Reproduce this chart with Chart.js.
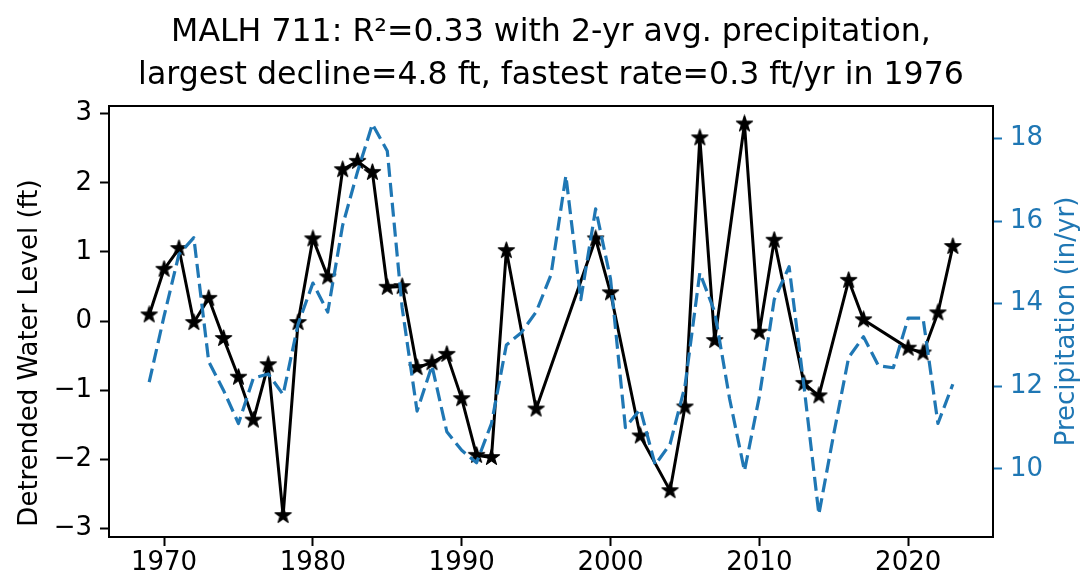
<!DOCTYPE html>
<html><head><meta charset="utf-8">
<script src="https://cdn.jsdelivr.net/npm/chart.js@4/dist/chart.umd.min.js"></script>
<style>html,body{margin:0;padding:0;background:#fff;} #wrap{width:1083px;height:586px;}</style>
</head><body><div id="wrap"><canvas id="c" width="1083" height="586"></canvas></div>
<script>
// ---- data ----
const waterYears = [1969,1970,1971,1972,1973,1974,1975,1976,1977,1978,1979,1980,1981,1982,1983,1984,1985,1986,1987,1988,1989,1990,1991,1992,1993,1995,1999,2000,2002,2004,2005,2006,2007,2009,2010,2011,2013,2014,2016,2017,2020,2021,2022,2023];
const waterLevels = [0.09,0.75,1.05,-0.02,0.33,-0.25,-0.81,-1.43,-0.63,-2.81,-0.02,1.19,0.64,2.19,2.31,2.15,0.49,0.50,-0.67,-0.60,-0.48,-1.12,-1.94,-1.97,1.02,-1.27,1.19,0.41,-1.66,-2.45,-1.24,2.65,-0.28,2.85,-0.16,1.17,-0.90,-1.08,0.59,0.02,-0.39,-0.46,0.12,1.08];
const precipYears = [1969,1970,1971,1972,1973,1974,1975,1976,1977,1978,1979,1980,1981,1982,1983,1984,1985,1986,1987,1988,1989,1990,1991,1992,1993,1994,1995,1996,1997,1998,1999,2000,2001,2002,2003,2004,2005,2006,2007,2008,2009,2010,2011,2012,2013,2014,2015,2016,2017,2018,2019,2020,2021,2022,2023];
const precipValues = [12.1,13.7,15.2,15.6,12.6,11.9,11.1,12.2,12.3,11.8,13.5,14.5,13.8,15.9,17.2,18.35,17.7,13.9,11.4,12.5,10.9,10.45,10.15,11.1,13.0,13.3,13.8,14.7,17.1,14.1,16.3,14.6,11.0,11.45,10.1,10.6,12.0,14.75,13.8,11.7,9.95,11.75,14.1,14.9,12.0,8.9,10.85,12.7,13.2,12.5,12.45,13.65,13.65,11.1,12.05];
const xTickValues = [1970,1980,1990,2000,2010,2020];
const leftTickValues = [-3,-2,-1,0,1,2,3];
const rightTickValues = [10,12,14,16,18];
const titleLines = ['MALH 711: R\u00B2=0.33 with 2-yr avg. precipitation,', 'largest decline=4.8 ft, fastest rate=0.3 ft/yr in 1976'];
const leftLabel = 'Detrended Water Level (ft)';
const rightLabel = 'Precipitation (in/yr)';

const FONT = "'DejaVu Sans', sans-serif";
const BLUE = '#1f77b4';

function makeStar(R){
  const s = Math.ceil(R*2+2);
  const c = document.createElement('canvas'); c.width = s; c.height = s;
  const g = c.getContext('2d');
  const cx = s/2, cy = s/2, r = R*0.381966;
  g.beginPath();
  for (let i=0;i<10;i++){ const a = -Math.PI/2 + i*Math.PI/5; const rr = i%2 ? r : R; g.lineTo(cx+rr*Math.cos(a), cy+rr*Math.sin(a)); }
  g.closePath(); g.fillStyle='#000'; g.fill(); g.lineJoin='round'; g.lineWidth=1.2; g.strokeStyle='#000'; g.stroke();
  return c;
}
const star = makeStar(8.5);

const framePlugin = {
  id: 'frame',
  afterDatasetsDraw(chart){
    const {ctx, chartArea:a} = chart;
    ctx.save(); ctx.strokeStyle='#000'; ctx.lineWidth=2;
    ctx.strokeRect(a.left, a.top, a.right-a.left, a.bottom-a.top);
    ctx.restore();
  },
  afterDraw(chart){
    const {ctx, chartArea:a} = chart;
    ctx.save(); ctx.font = '26px ' + FONT; ctx.textAlign='center'; ctx.textBaseline='alphabetic';
    ctx.fillStyle = BLUE;
    ctx.translate(1074, (a.top+a.bottom)/2); ctx.rotate(-Math.PI/2);
    ctx.fillText(rightLabel, 0, 0); ctx.restore();
    ctx.save(); ctx.font = '26px ' + FONT; ctx.textAlign='center'; ctx.textBaseline='alphabetic';
    ctx.fillStyle = '#000';
    ctx.translate(36.5, 353); ctx.rotate(-Math.PI/2);
    ctx.fillText(leftLabel, 0, 0); ctx.restore();
  }
};

const fmt = v => String(v).replace('-', '\u2212');

new Chart(document.getElementById('c'), {
  type: 'line',
  data: {
    datasets: [
      { label: 'Precipitation', yAxisID: 'y1', order: 0,
        data: precipYears.map((yr,i)=>({x: yr, y: precipValues[i]})),
        borderColor: BLUE, borderWidth: 3.2, borderDash: [14,6], pointRadius: 0, tension: 0, fill: false, borderJoinStyle: 'round' },
      { label: 'Water level', yAxisID: 'y', order: 1,
        data: waterYears.map((yr,i)=>({x: yr, y: waterLevels[i]})),
        borderColor: '#000', borderWidth: 3, pointStyle: star, pointRadius: 8, tension: 0, fill: false, borderJoinStyle: 'round' }
    ]
  },
  options: {
    responsive: false, animation: false, devicePixelRatio: 1,
    layout: { padding: 0 },
    plugins: {
      legend: { display: false }, tooltip: { enabled: false },
      title: { display: true, fullSize: false, text: titleLines, color: '#000',
        font: { family: FONT, size: 31.6, weight: 'normal', lineHeight: 43/31.6 }, padding: { top: 11, bottom: 9 } }
    },
    scales: {
      x: { type: 'linear', position: 'bottom', min: 1966.3, max: 2025.7,
        afterBuildTicks: s => { s.ticks = xTickValues.map(v=>({value:v})); },
        afterFit: s => { s.height = 49; },
        grid: { display: true, drawOnChartArea: false, drawTicks: true, tickLength: 9, tickWidth: 2, tickColor: '#000' },
        border: { display: false },
        ticks: { color: '#000', font: { family: FONT, size: 26 }, padding: 2, autoSkip: false, maxRotation: 0, callback: v => String(v) } },
      y: { type: 'linear', position: 'left', min: -3.12, max: 3.11,
        afterBuildTicks: s => { s.ticks = leftTickValues.map(v=>({value:v})); },
        afterFit: s => { s.width = 109; },
        grid: { display: true, drawOnChartArea: false, drawTicks: true, tickLength: 9, tickWidth: 2, tickColor: '#000' },
        border: { display: false },
        ticks: { color: '#000', font: { family: FONT, size: 26 }, padding: 8, callback: fmt } },
      y1: { type: 'linear', position: 'right', min: 8.35, max: 18.79,
        afterBuildTicks: s => { s.ticks = rightTickValues.map(v=>({value:v})); },
        afterFit: s => { s.width = 90; },
        grid: { display: true, drawOnChartArea: false, drawTicks: true, tickLength: 9, tickWidth: 2, tickColor: BLUE },
        border: { display: false },
        ticks: { color: BLUE, font: { family: FONT, size: 26 }, padding: 8, callback: v => String(v) } }
    }
  },
  plugins: [framePlugin]
});
</script></body></html>
